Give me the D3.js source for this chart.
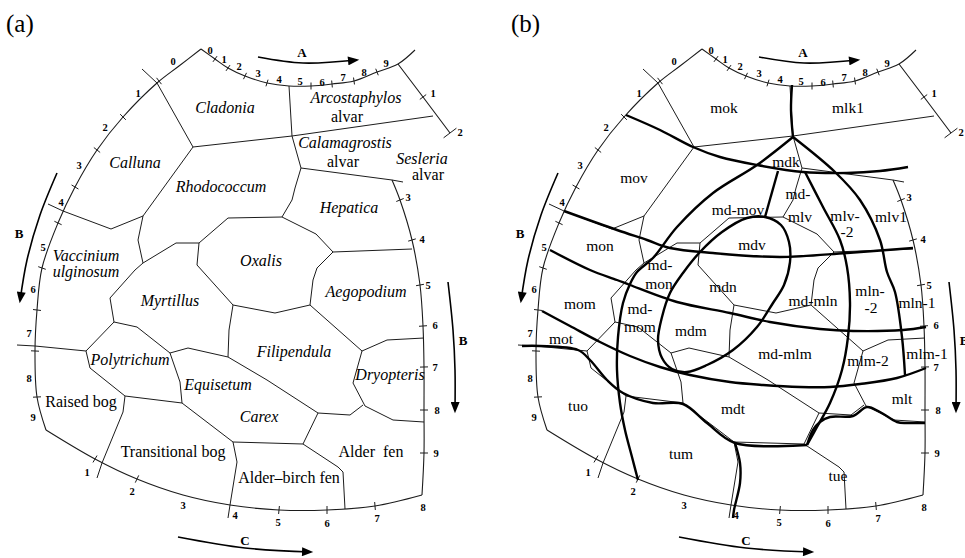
<!DOCTYPE html>
<html>
<head>
<meta charset="utf-8">
<title>Site types</title>
<script src="https://cdn.jsdelivr.net/npm/d3@7"></script>
<style>
    body { margin:0; background:#fff; }
    svg { display:block; }
    .thin { fill:none; stroke:#1c1c1c; stroke-width:1; }
    .thick { fill:none; stroke:#000; stroke-width:2.4; stroke-linejoin:round; }
    .frame { fill:none; stroke:#1c1c1c; stroke-width:1.1; }
    .tick { stroke:#1c1c1c; stroke-width:1; }
    .arrow { fill:none; stroke:#000; stroke-width:1.6; }
    .num { font: bold 10.5px "Liberation Serif", serif; text-anchor:middle; }
    .dir { font: bold 13px "Liberation Serif", serif; text-anchor:middle; }
    .plant { font: italic 16px "Liberation Serif", serif; text-anchor:middle; white-space:pre; }
    .site { font: 16px "Liberation Serif", serif; text-anchor:middle; white-space:pre; }
    .unit { font: 15.5px "Liberation Serif", serif; text-anchor:middle; }
    .panel { font: 25px "Liberation Serif", serif; }
</style>
</head>
<body>
<div id="chart"></div>
<script>
    var width = 965, height = 558;

    // panels: (a) site types, (b) same grid with the classification overlay
    var panelNames = ["(a)", "(b)"];
    var panelShift = [0, 501];

    // outer frame of the ordination (diagram units)
    var frameLeft = [[201,49],[179,66],[157,83],[123,117],[97,150],[75,187],[58,223],[42,268],[37,310],[35,351],[37,397],[46,430]];
    var frameBottom = [[46,430],[95,459],[137,479],[183,495],[230,505],[279,510],[327,510],[375,506],[422,495]];
    var frameRight = [[392,180],[400,200],[412,240],[420,285],[423,326],[424,367],[424,410],[424,453],[422,495]];
    var frameTop = [[201,49],[215,59],[228,68],[245,76],[267,83],[289,86],[311,86],[332,84],[354,81],[377,72],[398,64],[415,50]];
    var frameRightTop = [[398,64],[423,97],[450,133]];

    // tick marks on each frame side
    var ticksTop = [[215,59],[228,68],[245,76],[267,83],[311,86],[332,84],[354,81],[377,72]];
    var ticksLeft = [[159,81],[123,117],[97,150],[75,187],[58,223],[42,268],[37,310],[35,351],[37,397]];
    var ticksRightTop = [[423,97]];
    var ticksRight = [[400,200],[412,240],[420,285],[423,326],[424,367],[424,410],[424,453]];
    var ticksBottom = [[95,459],[137,479],[279,510],[327,510],[375,506]];

    // tick labels
    var labelsTop = [["0",210,50],["1",224,59],["2",239,66],["3",258,73],["4",279,79],["5",300,81],["6",322,82],["7",343,77],["8",364,72],["9",386,63]];
    var labelsLeft = [["0",173,61],["1",138,93],["2",105,127],["3",79,165],["4",61,202],["5",43,247],["6",33,289],["7",29,333],["8",29,378],["9",33,417]];
    var labelsRightTop = [["1",433,93],["2",460,132]];
    var labelsRight = [["3",408,197],["4",422,239],["5",428,285],["6",435,325],["7",435,367],["8",437,410],["9",436,453]];
    var labelsBottom = [["1",87,472],["2",132,491],["3",183,505],["4",235,515],["5",278,522],["6",327,523],["7",377,518],["8",423,507]];

    // gradient arrows A, B, C
    var arrowA = [[258,57],[303,63],[357,60]];
    var arrowBLeft = [[57,173],[40,215],[27,260],[20,301]];
    var arrowBRight = [[448,282],[453,330],[455,370],[455,411]];
    var arrowC = [[178,537],[245,548],[311,552]];
    var arrowNames = [["A",302,57],["B",19,238],["B",463,345],["C",245,545]];

    // boundaries between site types (thin lines, both panels)
    var edges = [
        [[142,69],[157,83],[193,147]],
        [[193,147],[292,136],[433,116]],
        [[289,86],[292,136],[301,168]],
        [[301,168],[392,180],[403,182]],
        [[301,168],[295,188],[292,200],[282,217]],
        [[199,243],[228,218],[282,217],[316,234],[333,252],[412,249]],
        [[333,252],[317,268],[313,280],[310,305]],
        [[199,243],[197,265],[233,305],[275,313],[310,305]],
        [[193,147],[143,216]],
        [[48,204],[63,211],[111,229],[143,216]],
        [[143,216],[138,240],[143,263]],
        [[143,263],[176,243],[199,243]],
        [[143,263],[135,270],[110,298],[114,322]],
        [[114,322],[137,327],[170,353]],
        [[114,322],[86,351]],
        [[17,345],[35,346],[86,351]],
        [[86,351],[90,368],[125,396],[182,403]],
        [[170,353],[180,382],[182,403]],
        [[170,353],[188,348],[228,357]],
        [[233,305],[229,330],[228,357]],
        [[228,357],[267,380],[318,413],[350,415],[363,405]],
        [[310,305],[362,351]],
        [[362,351],[387,340],[424,338]],
        [[362,351],[353,383],[365,406]],
        [[365,406],[393,420],[424,422]],
        [[182,403],[233,442]],
        [[233,442],[303,444]],
        [[303,444],[318,413]],
        [[303,444],[338,467],[343,472],[345,509]],
        [[233,442],[237,462],[230,505],[228,518]],
        [[125,396],[123,412],[102,463],[97,478]]
    ];

    // site type names, panel (a)
    var plantNames = [
        ["Cladonia",225,113,1],["Arcostaphylos",356,103,1],["alvar",347,122,0],
        ["Calamagrostis",345,148,1],["alvar",343,167,0],["Sesleria",422,164,1],["alvar",428,180,0],
        ["Calluna",135,168,1],["Rhodococcum",221,192,1],["Hepatica",349,213,1],["Oxalis",261,266,1],
        ["Vaccinium",86,261,1],["ulginosum",86,277,1],["Myrtillus",170,306,1],["Aegopodium",366,297,1],
        ["Polytrichum",130,365,1],["Filipendula",294,357,1],["Dryopteris",390,380,1],["Equisetum",218,390,1],
        ["Raised bog",81,407,0],["Carex",259,422,1],["Transitional bog",173,457,0],
        ["Alder  fen",371,457,0],["Alder\u2013birch fen",289,483,0]
    ];

    // classification units, panel (b)
    var unitNames = [
        ["mok",223,113],["mlk1",347,113],["mov",133,183],["mdk",285,167],["md-mov",237,215],
        ["md-",297,199],["mlv",299,222],["mlv-",344,221],["-2",346,237],["mlv1",390,222],
        ["mon",99,251],["mdv",251,250],["md-",159,270],["mon",158,289],["mdn",222,292],
        ["md-mln",312,306],["mln-",369,296],["-2",370,313],["mln-1",416,308],
        ["mom",79,309],["md-",139,314],["mom",139,332],["mdm",190,336],["mot",60,344],
        ["md-mlm",284,359],["mlm-2",367,366],["mlm-1",426,359],["mlt",401,404],
        ["tuo",77,411],["mdt",232,414],["tum",180,459],["tue",337,481]
    ];

    // heavy boundaries of the classification, panel (b)
    var heavy = [
        [[291,85],[290,110],[292,137]],
        [[292,137],[256,165],[212,193],[176,227],[152,258],[136,272],[129,284],[122,303],[117,337],[116,370],[119,403],[124,430],[131,457],[137,480]],
        [[292,137],[334,172],[359,200],[379,240],[386,272],[394,292],[401,337],[404,375]],
        [[277,171],[264,217]],
        [[63,211],[116,230],[146,240],[169,248],[212,253],[279,257],[346,253],[412,248]],
        [[49,250],[89,270],[116,280],[129,285],[176,302],[229,313],[269,322],[319,329],[352,331],[402,330],[425,327]],
        [[41,311],[69,326],[99,342],[129,356],[159,367],[189,375],[229,382],[262,385],[299,387],[329,387],[359,384],[396,378],[425,368]],
        [[21,346],[39,346],[77,350],[89,360],[106,380],[122,393],[152,403],[182,404],[206,423],[234,443],[306,445]],
        [[306,445],[312,430],[319,422],[329,417],[352,416],[366,407],[379,412],[396,422],[406,423],[424,423]],
        [[304,172],[322,207],[339,240],[346,267],[349,303],[347,337],[341,370],[329,403],[316,427],[306,445]],
        [[125,115],[159,130],[192,147],[219,157],[256,165],[302,172],[346,173],[379,171],[407,167]],
        [[234,443],[239,463],[239,483],[233,510],[232,518]]
    ];
    var ellipse = [[246,218],[264,217],[280,225],[288,242],[289,262],[283,285],[272,303],[256,327],[232,350],[206,365],
        [186,372],[171,369],[161,358],[157,340],[161,317],[169,293],[182,273],[199,252],[221,232]];

    var svg = d3.select("#chart").append("svg")
        .attr("width", width).attr("height", height);

    svg.append("defs").append("marker")
        .attr("id", "head")
        .attr("viewBox", "0 0 10 8")
        .attr("refX", 8).attr("refY", 4)
        .attr("markerWidth", 12).attr("markerHeight", 9)
        .attr("markerUnits", "userSpaceOnUse")
        .attr("orient", "auto")
        .append("path").attr("d", "M0,0 L10,4 L0,8z").attr("fill", "#000");

    function segDist(p, a, b) {
        var dx = b[0]-a[0], dy = b[1]-a[1];
        var t = ((p[0]-a[0])*dx + (p[1]-a[1])*dy) / (dx*dx + dy*dy);
        t = Math.max(0, Math.min(1, t));
        return Math.hypot(p[0]-a[0]-t*dx, p[1]-a[1]-t*dy);
    }
    // short stroke across the frame at a point
    function crossTick(p, pts, h) {
        var best = 0, bd = Infinity;
        for (var i = 0; i < pts.length-1; i++) {
            var d = segDist(p, pts[i], pts[i+1]);
            if (d < bd) { bd = d; best = i; }
        }
        var a = pts[best], b = pts[best+1];
        var len = Math.hypot(b[0]-a[0], b[1]-a[1]);
        var nx = -(b[1]-a[1])/len, ny = (b[0]-a[0])/len;
        return [[p[0]-nx*h, p[1]-ny*h], [p[0]+nx*h, p[1]+ny*h]];
    }

    panelNames.forEach(function(name, k) {
        var x = d3.scaleLinear().domain([0, 470]).range([panelShift[k], panelShift[k] + 470]);
        var y = d3.scaleLinear().domain([0, height]).range([0, height]);
        var poly = d3.line().x(d => x(d[0])).y(d => y(d[1]));
        var smooth = d3.line().x(d => x(d[0])).y(d => y(d[1])).curve(d3.curveCatmullRom.alpha(0.5));
        var closed = d3.line().x(d => x(d[0])).y(d => y(d[1])).curve(d3.curveCatmullRomClosed.alpha(0.5));

        var g = svg.append("g");

        g.append("text").attr("class", "panel")
            .attr("x", x(k ? 10 : 6)).attr("y", y(32)).text(name);

        // frame
        g.selectAll(".frame")
            .data([frameLeft, frameBottom, frameRight, frameTop, frameRightTop])
            .enter().append("path")
            .attr("class", "frame")
            .attr("d", (d, i) => i == 4 ? poly(d) : smooth(d));

        var tickSets = [[ticksTop, frameTop, 3.5], [ticksLeft, frameLeft, 4], [ticksRightTop, frameRightTop, 4],
            [ticksRight, frameRight, 4], [ticksBottom, frameBottom, 4]];
        tickSets.forEach(function(s) {
            g.selectAll(null).data(s[0]).enter().append("path")
                .attr("class", "tick")
                .attr("d", d => poly(crossTick(d, s[1], s[2])));
        });
        // end bar of the short upper-right scale
        g.append("path").attr("class", "tick")
            .attr("d", poly(crossTick(frameRightTop[2], frameRightTop, 8)));

        var numbers = labelsTop.concat(labelsLeft, labelsRightTop, labelsRight, labelsBottom);
        g.selectAll(".num").data(numbers).enter().append("text")
            .attr("class", "num")
            .attr("x", d => x(d[1])).attr("y", d => y(d[2]))
            .attr("dy", "0.35em")
            .text(d => d[0]);

        // arrows
        g.selectAll(".arrow")
            .data([arrowA, arrowBLeft, arrowBRight, arrowC])
            .enter().append("path")
            .attr("class", "arrow")
            .attr("marker-end", "url(#head)")
            .attr("d", d => smooth(d));
        g.selectAll(".dir").data(arrowNames).enter().append("text")
            .attr("class", "dir")
            .attr("x", d => x(d[1])).attr("y", d => y(d[2]))
            .text(d => d[0]);

        // site type boundaries
        g.selectAll(".thin").data(edges).enter().append("path")
            .attr("class", "thin")
            .attr("d", d => poly(d));

        if (k == 0) {
            g.selectAll(".name").data(plantNames).enter().append("text")
                .attr("class", d => d[3] ? "plant" : "site")
                .attr("x", d => x(d[1])).attr("y", d => y(d[2]))
                .text(d => d[0]);
        } else {
            g.selectAll(".thick").data(heavy).enter().append("path")
                .attr("class", "thick")
                .attr("d", d => smooth(d));
            g.append("path").attr("class", "thick").attr("d", closed(ellipse));

            g.selectAll(".unit").data(unitNames).enter().append("text")
                .attr("class", "unit")
                .attr("x", d => x(d[1])).attr("y", d => y(d[2]))
                .text(d => d[0]);
        }
    });
</script>
</body>
</html>
